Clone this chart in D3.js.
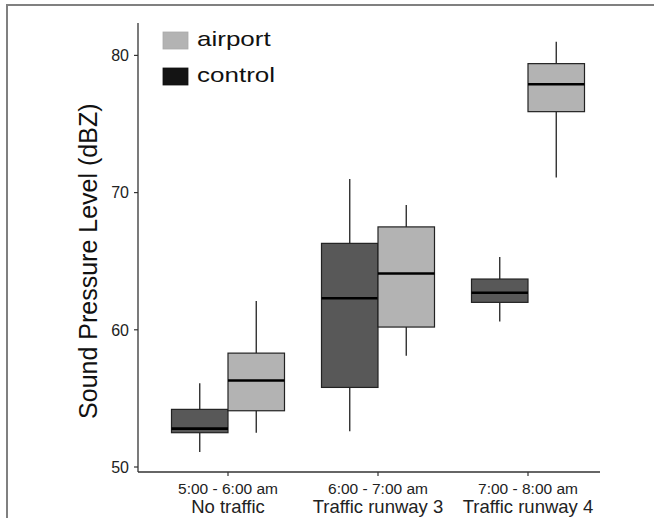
<!DOCTYPE html>
<html>
<head>
<meta charset="utf-8">
<script src="https://cdn.jsdelivr.net/npm/d3@7"></script>
<style>
  html, body { margin: 0; padding: 0; background: #fff; }
  svg { display: block; }
</style>
</head>
<body>
<svg id="chart" width="654" height="518"></svg>
<script>
// ---- data ----
const categories = ["5:00 - 6:00 am|No traffic", "6:00 - 7:00 am|Traffic runway 3", "7:00 - 8:00 am|Traffic runway 4"];
const groups = ["control", "airport"];
// [whiskerLow, q1, median, q3, whiskerHigh]
const controlStats = [
  [51.1, 52.5, 52.8, 54.2, 56.1],
  [52.6, 55.8, 62.3, 66.3, 71.0],
  [60.6, 62.0, 62.7, 63.7, 65.3]
];
const airportStats = [
  [52.5, 54.1, 56.3, 58.3, 62.1],
  [58.1, 60.2, 64.1, 67.5, 69.1],
  [71.1, 75.9, 77.9, 79.4, 81.0]
];
const yTicks = [50, 60, 70, 80];
const legendItems = ["airport", "control"];

// ---- styles ----
const fills = { control: "#585858", airport: "#b3b3b3" };
const legendFills = { airport: "#b3b3b3", control: "#141414" };

const svg = d3.select("#chart");

// frame border
svg.append("path")
  .attr("d", "M7,518 L7,5 L654,5")
  .attr("fill", "none").attr("stroke", "#808080").attr("stroke-width", 2);

const y = d3.scaleLinear().domain([50, 80]).range([467, 55.4]);
const x = d3.scaleBand().domain(categories).range([153, 603]).padding(0);
const sub = d3.scaleBand().domain(groups).range([-56.5, 56.5]).padding(0);

const axisLeftX = 138, axisBottomY = 472, panelTop = 23, panelRight = 600;

// y axis
svg.append("line").attr("x1", axisLeftX).attr("x2", axisLeftX)
  .attr("y1", panelTop).attr("y2", axisBottomY)
  .attr("stroke", "#333").attr("stroke-width", 1.3);
const yt = svg.append("g");
yTicks.forEach(t => {
  yt.append("line").attr("x1", axisLeftX - 4).attr("x2", axisLeftX)
    .attr("y1", y(t)).attr("y2", y(t)).attr("stroke", "#333").attr("stroke-width", 1.2);
  yt.append("text").attr("x", axisLeftX - 9).attr("y", y(t)).attr("dy", "0.36em")
    .attr("text-anchor", "end").attr("font-family", "Liberation Sans, Arial, sans-serif")
    .attr("font-size", 16).attr("fill", "#222").text(t);
});

// x axis
svg.append("line").attr("x1", axisLeftX).attr("x2", panelRight)
  .attr("y1", axisBottomY).attr("y2", axisBottomY)
  .attr("stroke", "#333").attr("stroke-width", 1.3);
categories.forEach(c => {
  const cx = x(c) + x.bandwidth() / 2;
  const [l1, l2] = c.split("|");
  svg.append("line").attr("x1", cx).attr("x2", cx)
    .attr("y1", axisBottomY).attr("y2", axisBottomY + 4)
    .attr("stroke", "#333").attr("stroke-width", 1.2);
  svg.append("text").attr("x", cx).attr("y", 494).attr("text-anchor", "middle")
    .attr("font-family", "Liberation Sans, Arial, sans-serif").attr("font-size", 15.5)
    .attr("fill", "#222").text(l1);
  svg.append("text").attr("x", cx).attr("y", 513).attr("text-anchor", "middle")
    .attr("font-family", "Liberation Sans, Arial, sans-serif").attr("font-size", 18.5)
    .attr("fill", "#222").text(l2);
});

// y title
svg.append("text")
  .attr("transform", `translate(97,${(y(50) + y(80)) / 2}) rotate(-90)`)
  .attr("text-anchor", "middle")
  .attr("font-family", "Liberation Sans, Arial, sans-serif").attr("font-size", 25)
  .attr("fill", "#111").text("Sound Pressure Level (dBZ)");

// boxes
function drawBox(stats, group) {
  stats.forEach((s, i) => {
    const c = categories[i];
    const cx = x(c) + x.bandwidth() / 2;
    const bx = cx + sub(group);
    const bw = sub.bandwidth();
    const mid = bx + bw / 2;
    const g = svg.append("g");
    g.append("line").attr("x1", mid).attr("x2", mid).attr("y1", y(s[0])).attr("y2", y(s[1]))
      .attr("stroke", "#222").attr("stroke-width", 1.3);
    g.append("line").attr("x1", mid).attr("x2", mid).attr("y1", y(s[3])).attr("y2", y(s[4]))
      .attr("stroke", "#222").attr("stroke-width", 1.3);
    g.append("rect").attr("x", bx).attr("y", y(s[3])).attr("width", bw)
      .attr("height", y(s[1]) - y(s[3])).attr("fill", fills[group])
      .attr("stroke", "#222").attr("stroke-width", 1.2);
    g.append("line").attr("x1", bx).attr("x2", bx + bw).attr("y1", y(s[2])).attr("y2", y(s[2]))
      .attr("stroke", "#000").attr("stroke-width", 2.6);
  });
}
drawBox(controlStats, "control");
drawBox(airportStats, "airport");

// legend
const lg = svg.append("g");
legendItems.forEach((k, i) => {
  const yy = 32 + i * 36;
  lg.append("rect").attr("x", 163).attr("y", yy).attr("width", 25).attr("height", 17)
    .attr("fill", legendFills[k]).attr("stroke", k === "airport" ? "#aaa" : "#111").attr("stroke-width", 0.8);
  lg.append("text").attr("transform", `translate(197,${yy + 14}) scale(1.3,1)`)
    .attr("font-family", "Liberation Sans, Arial, sans-serif").attr("font-size", 20)
    .attr("fill", "#111").text(k);
});
</script>
</body>
</html>
